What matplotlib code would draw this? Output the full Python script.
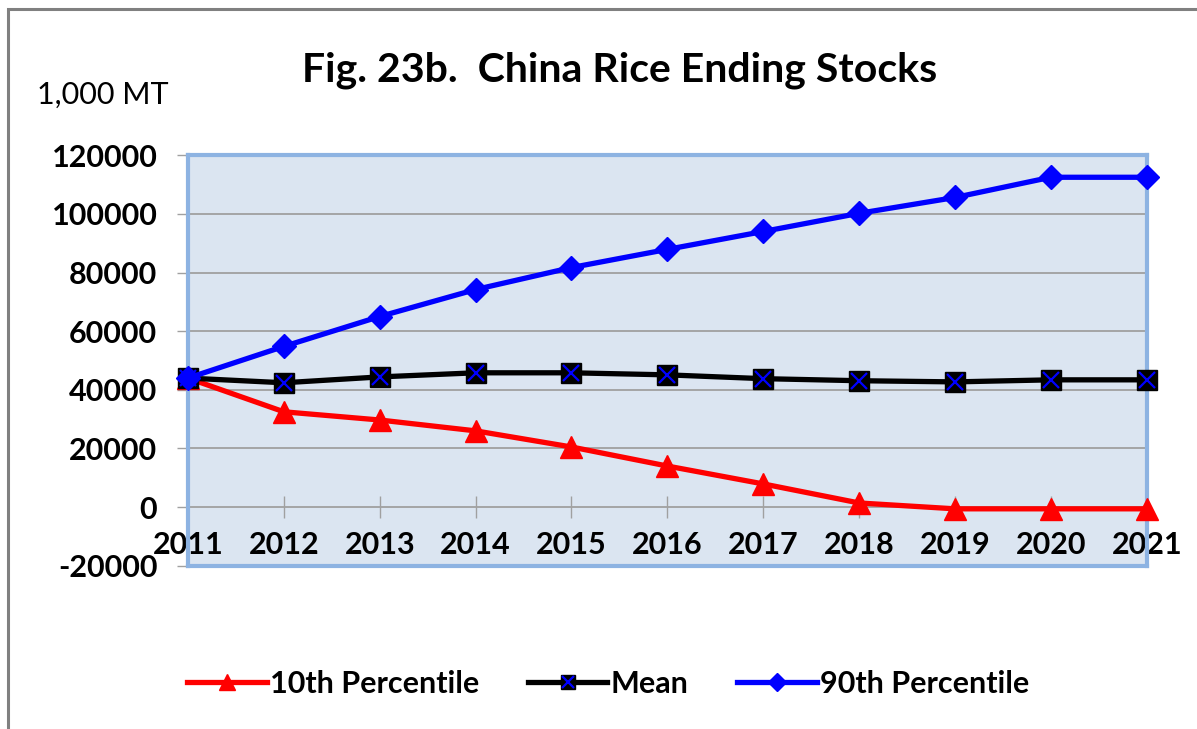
import numpy as np
import matplotlib.pyplot as plt
from matplotlib.patches import Rectangle
from matplotlib.legend_handler import HandlerTuple

plt.rcParams['font.family'] = ['Lato', 'DejaVu Sans']

years = [2011, 2012, 2013, 2014, 2015, 2016, 2017, 2018, 2019, 2020, 2021]
p10 = [44000, 32500, 29700, 26000, 20500, 14000, 7900, 1400, -600, -600, -600]
mean = [44000, 42400, 44400, 45800, 45800, 45100, 43800, 43100, 42700, 43400, 43400]
p90 = [44000, 54800, 65000, 74200, 81700, 87900, 94000, 100200, 105600, 112500, 112500]
y_ticks = [-20000, 0, 20000, 40000, 60000, 80000, 100000, 120000]

fig = plt.figure(figsize=(11.97, 7.29), dpi=100)
ax = fig.add_axes([0.157, 0.224, 0.801, 0.563])
ax.set_facecolor('#dbe5f1')

# outer chart frame (only top/left visible in the reference)
fig.add_artist(Rectangle((0.0067, -0.2), 1.5, 0.2 + 0.9877, transform=fig.transFigure,
                         fill=False, edgecolor='#808080', linewidth=2.2))

ax.set_xlim(2011, 2021)
ax.set_ylim(-20000, 120000)
ax.set_yticks(y_ticks)
ax.set_yticklabels([str(v) for v in y_ticks])
ax.set_xticks(years)
ax.set_xticklabels([str(y) for y in years])
ax.yaxis.grid(True, color='#a0a0a0', linewidth=1.3)
ax.set_axisbelow(True)

for s in ax.spines.values():
    s.set_color('#8db3e2')
    s.set_linewidth(3)

ax.tick_params(axis='y', length=8, width=1, color='#a0a0a0', pad=14,
               labelsize=22)
ax.tick_params(axis='x', length=0, pad=-25, labelsize=22)
for lab in ax.get_xticklabels() + ax.get_yticklabels():
    lab.set_fontweight('bold')

# horizontal axis crossing at zero
sec = ax.secondary_xaxis(20000 / 140000)
sec.set_xticks(years[1:-1])
sec.tick_params(direction='inout', length=16, width=1, color='#a0a0a0', labelbottom=False)
sec.spines['bottom'].set_visible(False)

lw = 3.8
l1, = ax.plot(years, p10, color='#ff0000', lw=lw, marker='^', ms=16,
              clip_on=False, zorder=3)
l2, = ax.plot(years, mean, color='black', lw=lw, marker='s', ms=14,
              clip_on=False, zorder=4)
l2x, = ax.plot(years, mean, linestyle='none', marker='x', ms=12, mew=1.6,
               color='#0000ff', clip_on=False, zorder=5)
l3, = ax.plot(years, p90, color='#0000ff', lw=lw, marker='D', ms=12,
              clip_on=False, zorder=6)

fig.text(0.518, 0.904, 'Fig. 23b.  China Rice Ending Stocks', ha='center', va='center',
         fontsize=29.5, fontweight='bold')
fig.text(0.031, 0.870, '1,000 MT', ha='left', va='center', fontsize=22)

leg = fig.legend([l1, (l2, l2x), l3], ['10th Percentile', 'Mean', '90th Percentile'],
                 handler_map={tuple: HandlerTuple(ndivide=1)},
                 loc='center', bbox_to_anchor=(0.508, 0.062), ncol=3, frameon=False,
                 prop={'size': 22, 'weight': 'bold'}, handlelength=2.6,
                 handletextpad=0.1, columnspacing=1.6, markerscale=0.75)

fig.savefig('out.png', dpi=100)
